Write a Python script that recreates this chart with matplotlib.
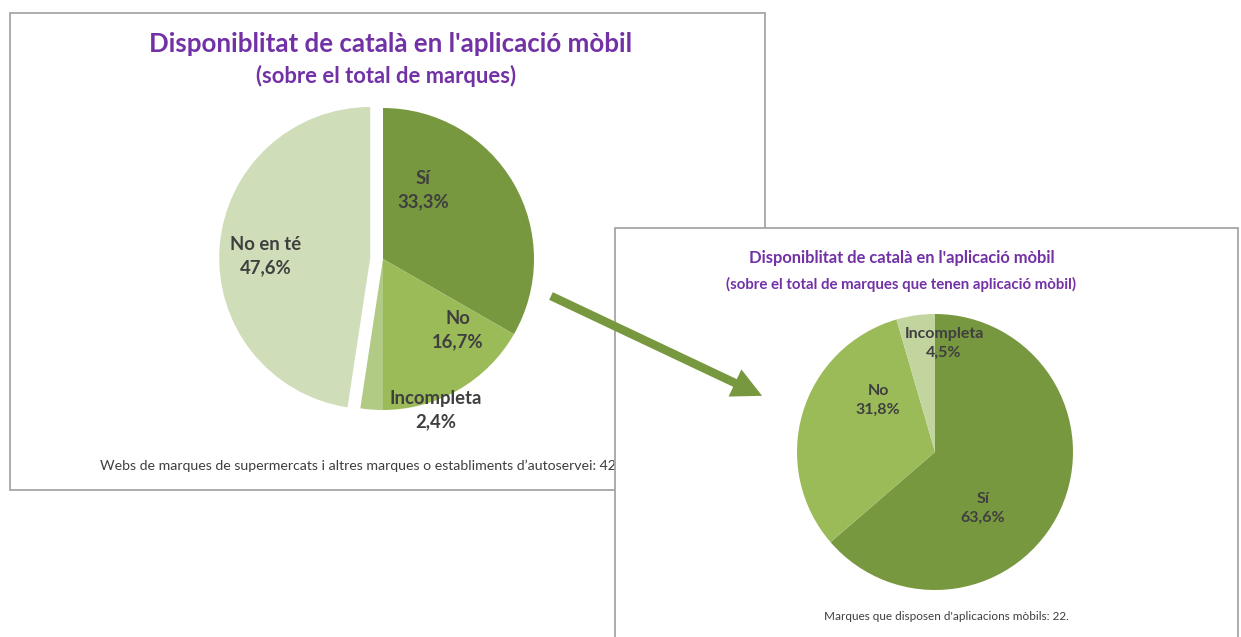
import matplotlib
matplotlib.use("Agg")
import matplotlib.pyplot as plt
from matplotlib.patches import Rectangle, FancyArrow

# ---- data ----
left_labels = ["Sí", "No", "Incompleta", "No en té"]
left_values = [33.3, 16.7, 2.4, 47.6]
right_labels = ["Sí", "No", "Incompleta"]
right_values = [63.6, 31.8, 4.5]

left_title = "Disponiblitat de català en l'aplicació mòbil"
left_subtitle = "(sobre el total de marques)"
right_title = "Disponiblitat de català en l'aplicació mòbil"
right_subtitle = "(sobre el total de marques que tenen aplicació mòbil)"
left_note = "Webs de marques de supermercats i altres marques o establiments d\u2019autoservei: 42."
right_note = "Marques que disposen d'aplicacions mòbils: 22."

# ---- style ----
W, H = 1241, 637
C_SI = "#789840"
C_NO = "#9bbb59"
C_INC_L = "#b1ca84"
C_INC_R = "#c2d59f"
C_NOENTE = "#cfddb8"
PURPLE = "#7232a6"
TXT = "#3f3f3f"
BORDER = "#a6a6a6"
FONT = "Lato"

fig = plt.figure(figsize=(W / 100, H / 100), dpi=100)
fig.patch.set_facecolor("white")


def pix_axes(z):
    ax = fig.add_axes([0, 0, 1, 1], zorder=z)
    ax.set_xlim(0, W)
    ax.set_ylim(H, 0)
    ax.axis("off")
    ax.patch.set_alpha(0)
    return ax


def pie_axes(cx, cy, r, z, pad=1.3):
    s = r * pad
    ax = fig.add_axes([(cx - s) / W, (H - cy - s) / H, 2 * s / W, 2 * s / H], zorder=z)
    ax.axis("off")
    ax.patch.set_alpha(0)
    return ax, pad


def fix_limits(ax, pad):
    ax.set_xlim(-pad, pad)
    ax.set_ylim(-pad, pad)
    ax.set_aspect("equal")


def fmt(lbl, v):
    return f"{lbl}\n{v:.1f}%".replace(".", ",")


# ---- left panel ----
bg = pix_axes(0)
bg.add_patch(Rectangle((10, 13), 755, 477, facecolor="white", edgecolor=BORDER, lw=1.3))
bg.text(391, 44, left_title, ha="center", va="center", color=PURPLE,
        fontsize=18.6, fontweight="bold", family=FONT)
bg.text(386, 76, left_subtitle, ha="center", va="center", color=PURPLE,
        fontsize=15.8, fontweight="bold", family=FONT)
bg.text(100, 466, left_note, ha="left", va="center", color=TXT,
        fontsize=10.2, family=FONT)

axl, padl = pie_axes(383, 259, 151, 1)
axl.pie(left_values, colors=[C_SI, C_NO, C_INC_L, C_NOENTE], startangle=90,
        counterclock=False, explode=[0, 0, 0, 0.085], radius=1.0,
        wedgeprops=dict(linewidth=0))
fix_limits(axl, padl)

lab = pix_axes(2)
left_pos = [(423, 190), (458, 330), (436, 410), (266, 256)]
for (x, y), lbl, v in zip(left_pos, left_labels, left_values):
    lab.text(x, y, fmt(lbl, v), ha="center", va="center",
             color=TXT, fontsize=13.3, fontweight="bold", family=FONT,
             linespacing=1.45)

# ---- right panel ----
fg = pix_axes(3)
fg.add_patch(Rectangle((615, 228), 623, 420, facecolor="white", edgecolor=BORDER,
                       lw=1.3, clip_on=False))
fg.text(902, 258, right_title, ha="center", va="center", color=PURPLE,
        fontsize=11.9, fontweight="bold", family=FONT)
fg.text(901, 284, right_subtitle, ha="center", va="center", color=PURPLE,
        fontsize=10.8, fontweight="bold", family=FONT)
fg.text(946, 617, right_note, ha="center", va="center", color=TXT,
        fontsize=8.5, family=FONT)

axr, padr = pie_axes(935, 452, 138, 4)
axr.pie(right_values, colors=[C_SI, C_NO, C_INC_R], startangle=90,
        counterclock=False, radius=1.0, wedgeprops=dict(linewidth=0))
fix_limits(axr, padr)

top = pix_axes(5)
right_pos = [(983, 508), (878, 400), (944, 343)]
for (x, y), lbl, v in zip(right_pos, right_labels, right_values):
    top.text(x, y, fmt(lbl, v), ha="center", va="center", color=TXT,
             fontsize=11.5, fontweight="bold", family=FONT, linespacing=1.45)

# arrow
top.add_patch(FancyArrow(551, 296, 184, 87, width=8.5, head_width=30, head_length=30,
                         length_includes_head=False, color=C_SI, lw=0))

fig.savefig("out.png", dpi=100, facecolor="white")
